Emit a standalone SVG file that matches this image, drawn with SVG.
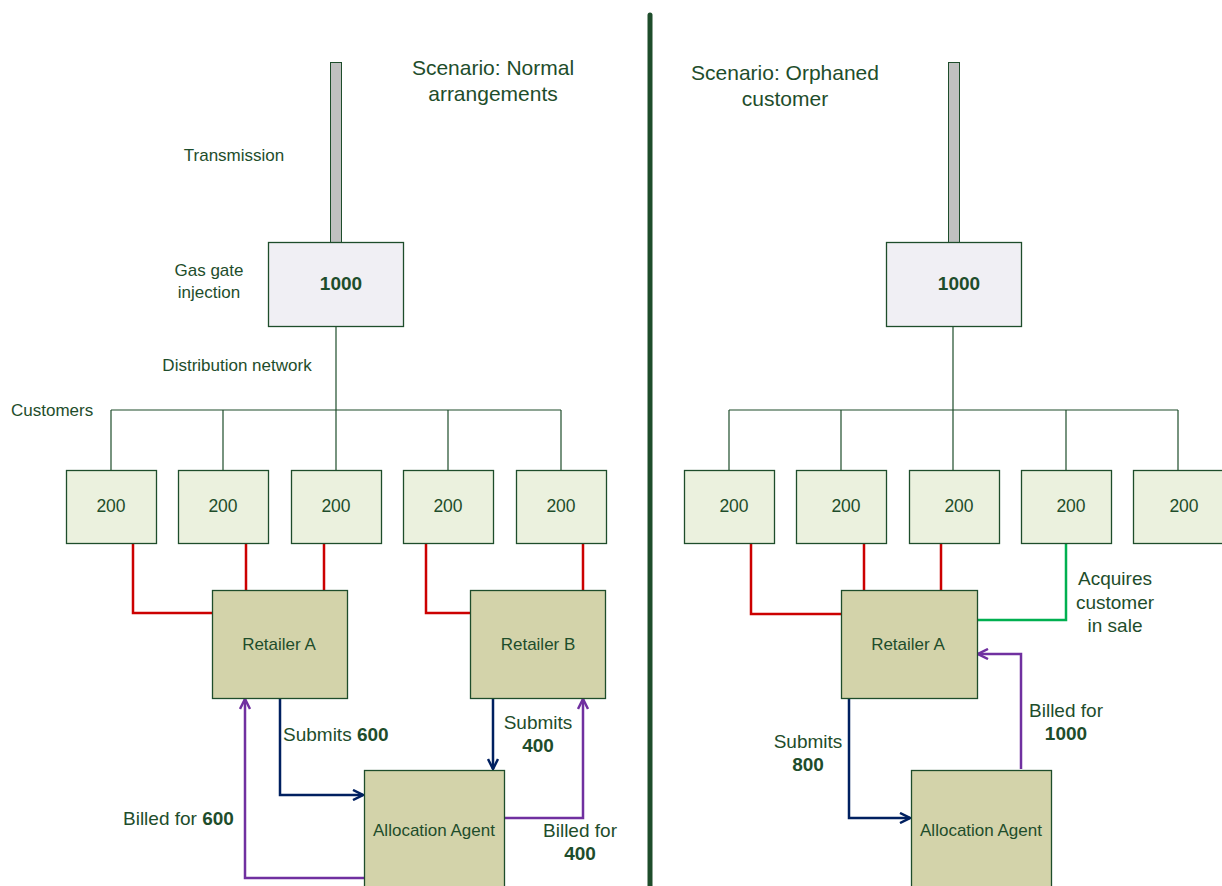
<svg xmlns="http://www.w3.org/2000/svg" width="1222" height="886" viewBox="0 0 1222 886">
<style>
text{font-family:"Liberation Sans",Arial,sans-serif;fill:#1e4d2b;}
.t{font-size:17px;}
.l{font-size:19px;}
.n{font-size:17.5px;}
.g{font-size:19px;font-weight:bold;}
.h{font-size:21px;text-anchor:middle;}
.m{text-anchor:middle;}
.b{font-weight:bold;}
.box{stroke:#1e4d2b;stroke-width:1.3;}
.cust{fill:#ebf1de;}
.ret{fill:#d3d3aa;}
.gate{fill:#f0eff4;}
.bar{fill:#c0c0c0;stroke:#1e4d2b;stroke-width:1;}
.net{fill:none;stroke:#1e4d2b;stroke-width:1.2;}
.red{fill:none;stroke:#cc0000;stroke-width:2.5;}
.grn{fill:none;stroke:#00b050;stroke-width:2.5;}
.navy{fill:none;stroke:#002060;stroke-width:2.5;}
.pur{fill:none;stroke:#7030a0;stroke-width:2.5;}
</style>
<defs>
<marker id="an" viewBox="0 0 12 12" refX="11" refY="6" markerWidth="12" markerHeight="12" markerUnits="userSpaceOnUse" orient="auto"><path d="M1,1 L11,6 L1,11" fill="none" stroke="#002060" stroke-width="2.5"/></marker>
<marker id="ap" viewBox="0 0 12 12" refX="11" refY="6" markerWidth="12" markerHeight="12" markerUnits="userSpaceOnUse" orient="auto"><path d="M1,1 L11,6 L1,11" fill="none" stroke="#7030a0" stroke-width="2.5"/></marker>
</defs>
<rect width="1222" height="886" fill="#ffffff"/>
<line x1="650" y1="15" x2="650" y2="886" stroke="#1e4d2b" stroke-width="5" stroke-linecap="round"/>

<g id="connectors">
<path class="net" d="M336,326 V410 M111,410 H561 M111,410 V470 M223,410 V470 M336,410 V470 M448,410 V470 M561,410 V470"/>
<path class="net" d="M953,326 V410 M729,410 H1178 M729,410 V470 M841,410 V470 M953,410 V470 M1066,410 V470 M1178,410 V470"/>
<path class="red" d="M133,543 V613 H212 M246,543 V590 M324,543 V590 M426,543 V613 H470 M583,543 V590"/>
<path class="red" d="M751,543 V614 H841 M864,543 V590 M941,543 V590"/>
<path class="grn" d="M1066,543 V620 H977"/>
<path class="navy" marker-end="url(#an)" d="M280,698 V795 H363"/>
<path class="navy" marker-end="url(#an)" d="M493,698 V769"/>
<path class="navy" marker-end="url(#an)" d="M849,698 V818 H910"/>
<path class="pur" marker-end="url(#ap)" d="M364,878 H245 V699"/>
<path class="pur" marker-end="url(#ap)" d="M504,818 H583 V699"/>
<path class="pur" marker-end="url(#ap)" d="M1021,769 V654 H978"/>
</g>

<text class="h" x="493" y="75">Scenario: Normal</text>
<text class="h" x="493" y="101">arrangements</text>
<text class="h" x="785" y="80">Scenario: Orphaned</text>
<text class="h" x="785" y="106">customer</text>

<g id="left-transmission"><rect class="bar" x="330.5" y="62.5" width="11" height="180"/><text class="t m" x="234" y="161">Transmission</text></g>
<g id="left-gate"><rect class="box gate" x="268.5" y="242.5" width="135" height="84"/><text class="g m" x="341" y="290">1000</text>
<text class="t m" x="209" y="276">Gas gate</text><text class="t m" x="209" y="298">injection</text></g>
<text class="t m" x="237" y="371">Distribution network</text>
<text class="t" x="11" y="416">Customers</text>

<g id="lc1"><rect class="box cust" x="66.5" y="470.5" width="90" height="73"/><text class="n m" x="111" y="512">200</text></g>
<g id="lc2"><rect class="box cust" x="178.5" y="470.5" width="90" height="73"/><text class="n m" x="223" y="512">200</text></g>
<g id="lc3"><rect class="box cust" x="291.5" y="470.5" width="90" height="73"/><text class="n m" x="336" y="512">200</text></g>
<g id="lc4"><rect class="box cust" x="403.5" y="470.5" width="90" height="73"/><text class="n m" x="448" y="512">200</text></g>
<g id="lc5"><rect class="box cust" x="516.5" y="470.5" width="90" height="73"/><text class="n m" x="561" y="512">200</text></g>

<g id="left-retailer-a"><rect class="box ret" x="212.5" y="590.5" width="135" height="108"/><text class="t m" x="279" y="650">Retailer A</text></g>
<g id="left-retailer-b"><rect class="box ret" x="470.5" y="590.5" width="135" height="108"/><text class="t m" x="538" y="650">Retailer B</text></g>
<g id="left-agent"><rect class="box ret" x="364.5" y="770.5" width="140" height="120"/><text class="t m" x="434" y="836">Allocation Agent</text></g>

<text class="l" x="283" y="741">Submits <tspan class="b">600</tspan></text>
<text class="l m" x="538" y="729">Submits</text><text class="l m b" x="538" y="752">400</text>
<text class="l" x="123" y="825">Billed for <tspan class="b">600</tspan></text>
<text class="l m" x="580" y="837">Billed for</text><text class="l m b" x="580" y="860">400</text>

<g id="right-transmission"><rect class="bar" x="948.5" y="62.5" width="11" height="180"/></g>
<g id="right-gate"><rect class="box gate" x="886.5" y="242.5" width="135" height="84"/><text class="g m" x="959" y="290">1000</text></g>

<g id="rc1"><rect class="box cust" x="684.5" y="470.5" width="90" height="73"/><text class="n m" x="734" y="512">200</text></g>
<g id="rc2"><rect class="box cust" x="796.5" y="470.5" width="90" height="73"/><text class="n m" x="846" y="512">200</text></g>
<g id="rc3"><rect class="box cust" x="909.5" y="470.5" width="90" height="73"/><text class="n m" x="959" y="512">200</text></g>
<g id="rc4"><rect class="box cust" x="1021.5" y="470.5" width="90" height="73"/><text class="n m" x="1071" y="512">200</text></g>
<g id="rc5"><rect class="box cust" x="1133.5" y="470.5" width="92" height="73"/><text class="n m" x="1184" y="512">200</text></g>

<g id="right-retailer-a"><rect class="box ret" x="841.5" y="590.5" width="136" height="108"/><text class="t m" x="908" y="650">Retailer A</text></g>
<g id="right-agent"><rect class="box ret" x="911.5" y="770.5" width="140" height="120"/><text class="t m" x="981" y="836">Allocation Agent</text></g>

<text class="l m" x="1115" y="585">Acquires</text>
<text class="l m" x="1115" y="609">customer</text>
<text class="l m" x="1115" y="632">in sale</text>
<text class="l m" x="1066" y="717">Billed for</text><text class="l m b" x="1066" y="740">1000</text>
<text class="l m" x="808" y="748">Submits</text><text class="l m b" x="808" y="771">800</text>
</svg>
